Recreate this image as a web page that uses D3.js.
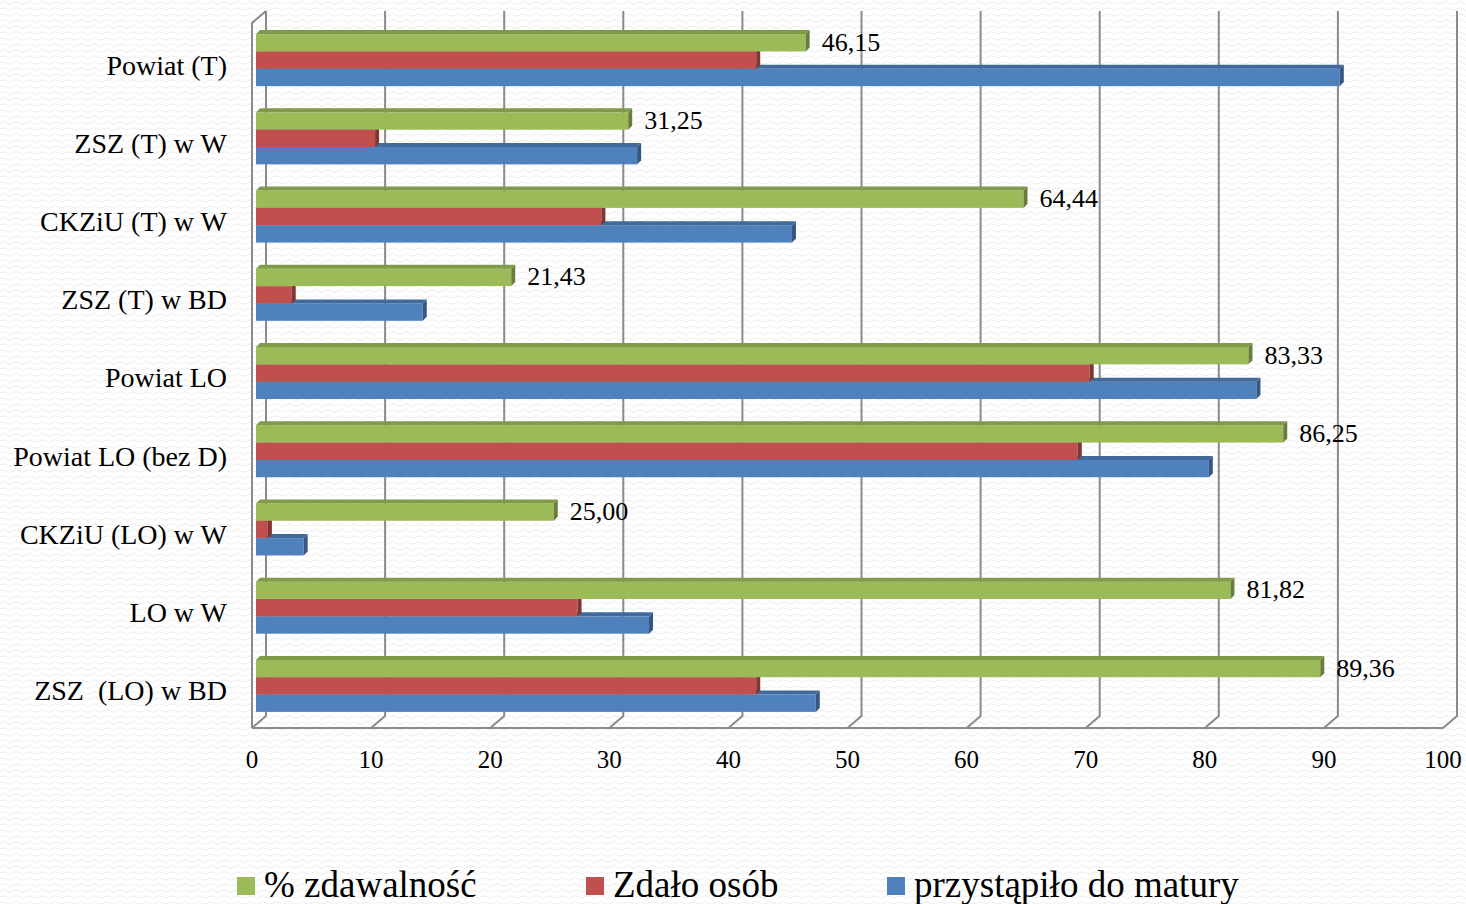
<!DOCTYPE html>
<meta charset="utf-8">
<script src="https://d3js.org/d3.v7.min.js"></script>
<style>
  body { margin: 0; background: #fff; }
  text { font-family: "Liberation Serif", "Times New Roman", serif; fill: #000; }
</style>
<body>
<div id="chart"></div>
<script>

  // categories, top to bottom
  var categories = ["Powiat (T)", "ZSZ (T) w W", "CKZiU (T) w W", "ZSZ (T) w BD", "Powiat LO",
                    "Powiat LO (bez D)", "CKZiU (LO) w W", "LO w W", "ZSZ  (LO) w BD"]

  // series
  var zdawalnosc = [46.15, 31.25, 64.44, 21.43, 83.33, 86.25, 25.00, 81.82, 89.36]
  var zdalo      = [42, 10, 29, 3, 70, 69, 1, 27, 42]
  var przystapilo = [91, 32, 45, 14, 84, 80, 4, 33, 47]

  var seriesNames = ["% zdawalność", "Zdało osób", "przystąpiło do matury"]
  var seriesColors = ["#9BBB59", "#C0504D", "#4F81BD"]
  var xTicks = [0, 10, 20, 30, 40, 50, 60, 70, 80, 90, 100]

  var width = 1466, height = 904
  var depthX = 14, depthY = -12   // 3d depth of the walls
  var barDX = 4, barDY = -4       // 3d depth of a bar

  var svg = d3.select("#chart").append("svg")
    .attr("width", width)
    .attr("height", height)

  // faint wavy background texture
  var defs = svg.append("defs")
  var pat = defs.append("pattern")
    .attr("id", "waves")
    .attr("patternUnits", "userSpaceOnUse")
    .attr("width", 13).attr("height", 6)
  pat.append("path")
    .attr("d", "M0,3 Q3.25,0.5 6.5,3 T13,3")
    .attr("fill", "none")
    .attr("stroke", "#ececec")
    .attr("stroke-width", 1)
  svg.append("rect").attr("width", width).attr("height", height).attr("fill", "#fff")
  svg.append("rect").attr("width", width).attr("height", height).attr("fill", "url(#waves)")

  // front plane scale (axis labels, floor); bars sit a little deeper
  var x = d3.scaleLinear().domain([0, 100]).range([252, 1443])
  var floorY = 728, topY = 23

  var y = d3.scaleBand()
    .domain(categories)
    .range([21, 725])
    .paddingInner(0.335)
    .paddingOuter(0.1675)

  var ySeries = d3.scaleBand()
    .domain(seriesNames)
    .range([0, y.bandwidth()])

  // walls / gridlines
  var grid = svg.append("g")
    .attr("fill", "none")
    .attr("stroke", "#8a8a8a")
    .attr("stroke-width", 2)

  xTicks.forEach(function(t) {
    grid.append("path")
      .attr("d", "M" + (x(t) + depthX) + "," + (topY + depthY) +
                 "L" + (x(t) + depthX) + "," + (floorY + depthY) +
                 "L" + x(t) + "," + floorY)
  })
  // front floor edge and left wall edge
  grid.append("path")
    .attr("d", "M" + x(0) + "," + floorY + "L" + x(100) + "," + floorY)
  grid.append("path")
    .attr("d", "M" + x(0) + "," + floorY + "L" + x(0) + "," + topY +
               "L" + (x(0) + depthX) + "," + (topY + depthY))

  // data rows
  var rows = categories.map(function(c, i) {
    return { cat: c, values: [zdawalnosc[i], zdalo[i], przystapilo[i]] }
  })

  var barOff = 4  // bar front face offset from front plane
  var bars = svg.append("g")

  rows.forEach(function(r) {
    var g = bars.append("g").attr("transform", "translate(0," + y(r.cat) + ")")
    // draw bottom series first so the upper one covers its top face
    for (var s = 2; s >= 0; s--) {
      var v = r.values[s]
      var x0 = x(0) + barOff, x1 = x(v) + barOff
      var y0 = ySeries(seriesNames[s]), h = ySeries.bandwidth()
      var col = d3.color(seriesColors[s])
      g.append("rect")
        .attr("x", x0).attr("y", y0)
        .attr("width", x1 - x0).attr("height", h)
        .attr("fill", col)
      g.append("path")
        .attr("d", "M" + x0 + "," + y0 + "L" + (x0 + barDX) + "," + (y0 + barDY) +
                   "L" + (x1 + barDX) + "," + (y0 + barDY) + "L" + x1 + "," + y0 + "Z")
        .attr("fill", col.darker(0.55))
      g.append("path")
        .attr("d", "M" + x1 + "," + y0 + "L" + (x1 + barDX) + "," + (y0 + barDY) +
                   "L" + (x1 + barDX) + "," + (y0 + h + barDY) + "L" + x1 + "," + (y0 + h) + "Z")
        .attr("fill", col.darker(1.1))
    }
    // value label for % zdawalność
    g.append("text")
      .attr("x", x(r.values[0]) + barOff + barDX + 12)
      .attr("y", ySeries(seriesNames[0]) + ySeries.bandwidth() / 2 + 2)
      .attr("dominant-baseline", "middle")
      .style("font-size", "26px")
      .text(r.values[0].toFixed(2).replace(".", ","))
  })

  // category labels
  svg.append("g").selectAll("text")
    .data(categories)
    .enter().append("text")
    .attr("x", 227)
    .attr("y", function(d) { return y(d) + y.bandwidth() / 2 + 8 })
    .attr("text-anchor", "end")
    .attr("dominant-baseline", "middle")
    .style("font-size", "28px")
    .style("white-space", "pre")
    .text(function(d) { return d })

  // x tick labels
  svg.append("g").selectAll("text")
    .data(xTicks)
    .enter().append("text")
    .attr("x", function(d) { return x(d) })
    .attr("y", 762)
    .attr("text-anchor", "middle")
    .attr("dominant-baseline", "middle")
    .style("font-size", "25px")
    .text(function(d) { return d })

  // legend
  var legendX = [237, 586, 887]
  var legend = svg.append("g").selectAll("g")
    .data(seriesNames)
    .enter().append("g")
    .attr("transform", function(d, i) { return "translate(" + legendX[i] + ",877)" })
  legend.append("rect")
    .attr("width", 18).attr("height", 18)
    .attr("fill", function(d, i) { return seriesColors[i] })
  legend.append("text")
    .attr("x", 27)
    .attr("y", 20)
    .style("font-size", "37px")
    .text(function(d) { return d })

</script>
</body>
